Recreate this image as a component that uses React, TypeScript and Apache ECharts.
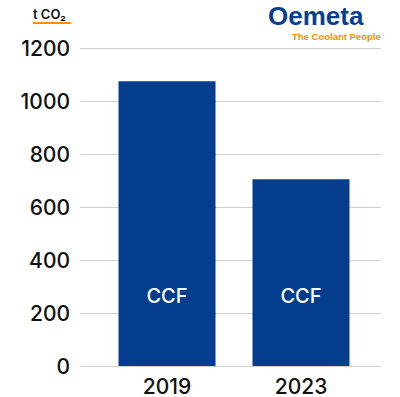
import React, { useEffect, useRef } from "react";
import * as echarts from "echarts";

const categories = ["2019", "2023"];
const values = [1075, 705];
const barLabels = ["CCF", "CCF"];
const yMin = 0;
const yMax = 1200;
const yInterval = 200;

export default function App() {
  const ref = useRef<HTMLDivElement>(null);
  useEffect(() => {
    const chart = echarts.init(ref.current!, undefined, { renderer: "svg" });
    const font = "Inter, 'Liberation Sans', Arial, sans-serif";
    const logoFont = "'Liberation Sans', Arial, sans-serif";
    chart.setOption({
      animation: false,
      backgroundColor: "#ffffff",
      grid: [
        { left: 100, width: 268, top: 48, bottom: 31, containLabel: false },
        { left: 80, right: 19, top: 48, bottom: 31, containLabel: false },
      ],
      xAxis: [
        {
          type: "category",
          gridIndex: 0,
          data: categories,
          axisLine: { show: false },
          axisTick: { show: false },
          axisLabel: {
            color: "#111",
            fontSize: 21,
            lineHeight: 20,
            fontWeight: 500,
            fontFamily: font,
            margin: 10,
          },
        },
        {
          type: "value",
          gridIndex: 1,
          show: false,
        },
      ],
      yAxis: [
        {
          type: "value",
          gridIndex: 0,
          min: yMin,
          max: yMax,
          interval: yInterval,
          show: false,
          splitLine: { show: false },
        },
        {
          type: "value",
          gridIndex: 1,
          min: yMin,
          max: yMax,
          interval: yInterval,
          axisLine: { show: false },
          axisTick: { show: false },
          axisLabel: {
            color: "#111",
            fontSize: 21,
            fontWeight: 500,
            fontFamily: font,
            margin: 10,
            formatter: (v: number) => String(v),
          },
          splitLine: { show: true, lineStyle: { color: "#d0d0d0", width: 1 } },
        },
      ],
      series: [
        {
          type: "bar",
          xAxisIndex: 0,
          yAxisIndex: 0,
          z: 5,
          barWidth: 97,
          data: values.map((v, i) => ({
            value: v,
            label: { formatter: barLabels[i] },
          })),
          itemStyle: { color: "#033d8c" },
          label: {
            show: true,
            position: "insideBottom",
            distance: 60,
            color: "#ffffff",
            fontSize: 20,
            fontWeight: 500,
            fontFamily: font,
          },
        },
      ],
      graphic: [
        {
          type: "text",
          left: 33,
          top: 7,
          style: { text: "t CO₂", fill: "#111", font: `600 13px ${font}` },
        },
        {
          type: "rect",
          shape: { x: 33, y: 22, width: 38, height: 2 },
          style: { fill: "#f39200" },
        },
        {
          type: "text",
          left: 268,
          top: 3,
          style: { text: "Oemeta", fill: "#0a3f8f", font: `bold 26px ${logoFont}` },
        },
        {
          type: "text",
          left: 292,
          top: 31,
          style: { text: "The Coolant People", fill: "#f39200", font: `bold 9.5px ${logoFont}` },
        },
      ],
    });
    return () => chart.dispose();
  }, []);
  return <div ref={ref} style={{ width: 400, height: 397, position: "absolute", left: 0, top: 0 }} />;
}
